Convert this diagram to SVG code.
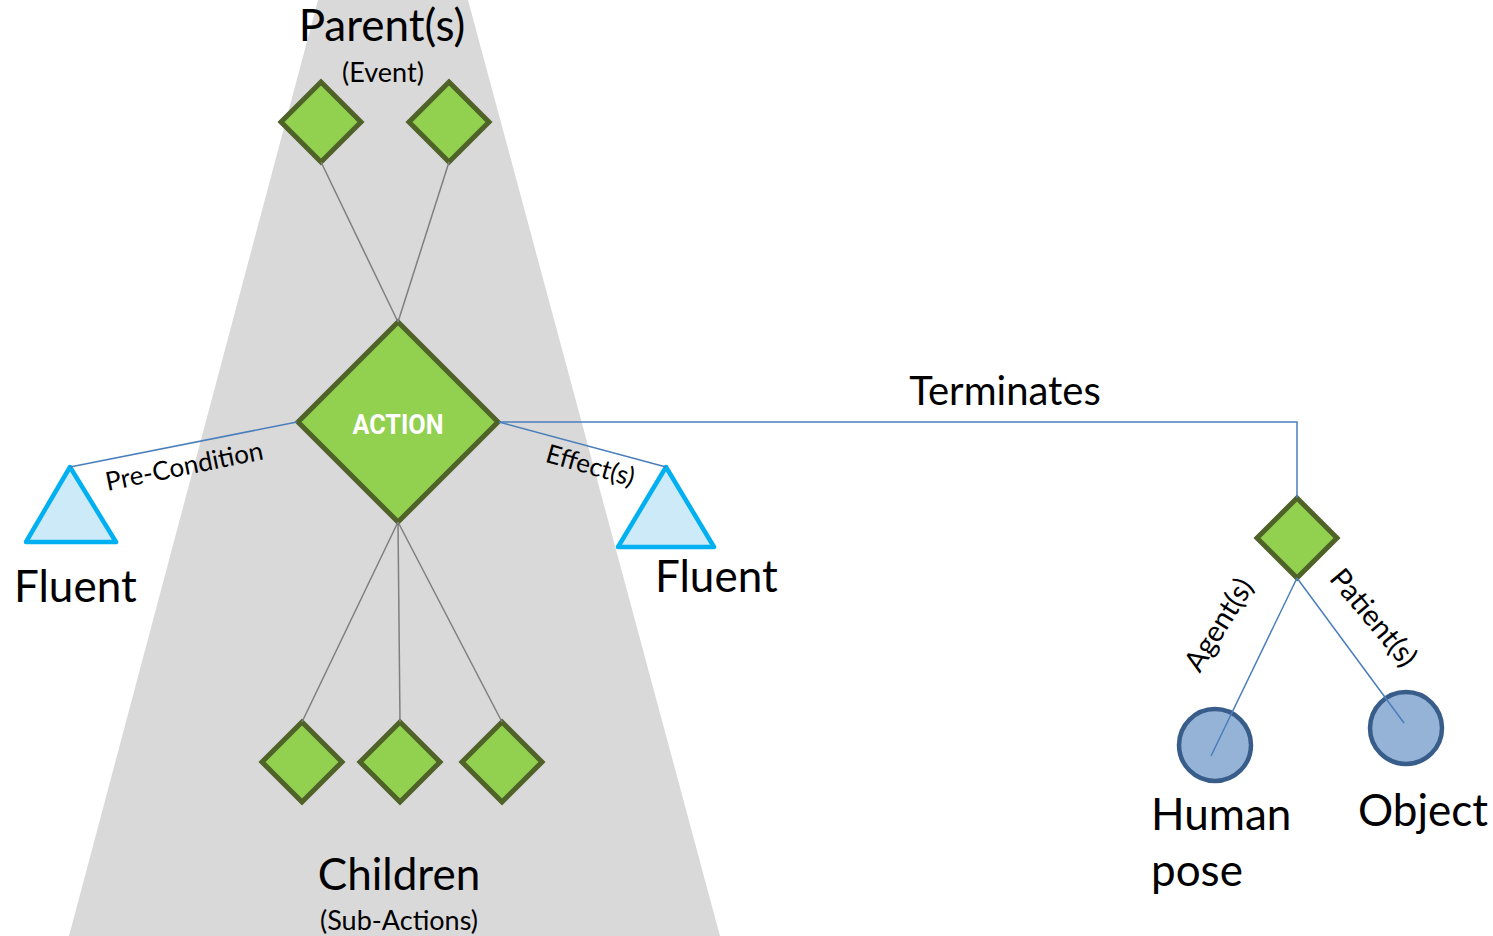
<svg xmlns="http://www.w3.org/2000/svg" width="1493" height="936" viewBox="0 0 1493 936">
  <style>
    .act { fill: #92d050; stroke: #4f6228; stroke-width: 5; stroke-linejoin: miter; }
    .flu { fill: #cdeaf9; stroke: #00b0f0; stroke-width: 4.5; stroke-linejoin: round; }
    .obj { fill: #95b3d7; stroke: #385d8a; stroke-width: 4.5; }
    .hier { stroke: #7f7f7f; stroke-width: 1.5; fill: none; }
    .rel { stroke: #4a7ebb; stroke-width: 1.5; fill: none; }
    text { font-family: Lato, "Open Sans", "Liberation Sans", sans-serif; fill: #000; }
    .big { font-size: 44px; }
    .mid { font-size: 40px; }
    .small { font-size: 27px; }
    .lbl { font-size: 26px; }
    .lbl2 { font-size: 29px; }
    .actlabel { font-family: Roboto, "Liberation Sans", sans-serif; font-weight: bold; font-size: 28px; fill: #fff; }
  </style>

  <!-- hierarchy cone behind the action -->
  <polygon id="cone" points="318,0 468,0 720,936 69,936" fill="#d9d9d9"/>

  <g id="parent-label">
    <text class="big" x="382" y="41" text-anchor="middle" font-size="47">Parent(s)</text>
    <text class="small" x="383" y="82" text-anchor="middle">(Event)</text>
  </g>
  <g id="parent-1"><polygon class="act" points="321,82 361,122 321,162 281,122"/></g>
  <g id="parent-2"><polygon class="act" points="449,82 489,122 449,162 409,122"/></g>

  <g id="action">
    <polygon class="act" points="398,322 498,422 398,522 298,422"/>
    <text class="actlabel" x="398" y="434" text-anchor="middle" textLength="91" lengthAdjust="spacingAndGlyphs">ACTION</text>
  </g>

  <g id="child-1"><polygon class="act" points="302,722 342,762 302,802 262,762"/></g>
  <g id="child-2"><polygon class="act" points="400,722 440,762 400,802 360,762"/></g>
  <g id="child-3"><polygon class="act" points="502,722 542,762 502,802 462,762"/></g>
  <g id="children-label">
    <text class="big" x="399" y="890" text-anchor="middle">Children</text>
    <text class="small" x="399" y="930" text-anchor="middle">(Sub-Actions)</text>
  </g>

  <g id="fluent-pre">
    <polygon class="flu" points="70,467 116,542 26,542"/>
    <text class="big" x="14" y="602">Fluent</text>
  </g>

  <g id="fluent-effect">
    <polygon class="flu" points="666,467 714,547 618,547"/>
    <text class="big" x="655" y="592">Fluent</text>
  </g>

  <g id="terminated-action"><polygon class="act" points="1297,498 1337,538 1297,578 1257,538"/></g>

  <g id="agent">
    <circle class="obj" cx="1215" cy="745" r="36"/>
    <text class="big" x="1151" y="830" font-size="45">Human</text>
    <text class="big" x="1151" y="886" font-size="45">pose</text>
  </g>

  <g id="patient">
    <circle class="obj" cx="1406" cy="728" r="36"/>
    <text class="big" x="1358" y="826" font-size="44">Object</text>
  </g>

  <!-- links: grey for the part-of hierarchy, blue for relations -->
  <g id="connectors">
    <line class="hier" x1="321" y1="162" x2="398" y2="322"/>
    <line class="hier" x1="449" y1="162" x2="398" y2="322"/>
    <line class="hier" x1="398" y1="522" x2="302" y2="722"/>
    <line class="hier" x1="398" y1="522" x2="400" y2="722"/>
    <line class="hier" x1="398" y1="522" x2="502" y2="722"/>
    <line class="rel" x1="297" y1="422" x2="70" y2="467"/>
    <line class="rel" x1="499" y1="422" x2="666" y2="467"/>
    <polyline class="rel" points="499,422 1297,422 1297,498"/>
    <line class="rel" x1="1297" y1="578" x2="1211" y2="756"/>
    <line class="rel" x1="1297" y1="578" x2="1404" y2="723"/>
    <text class="lbl" transform="translate(186,475) rotate(-11.5)" text-anchor="middle">Pre-Condition</text>
    <text class="lbl" transform="translate(588,474) rotate(16)" text-anchor="middle">Effect(s)</text>
    <text class="mid" x="1005" y="405" text-anchor="middle">Terminates</text>
    <text class="lbl2" transform="translate(1227,630) rotate(-58)" text-anchor="middle">Agent(s)</text>
    <text class="lbl2" transform="translate(1366,624) rotate(50)" text-anchor="middle">Patient(s)</text>
  </g>
</svg>
